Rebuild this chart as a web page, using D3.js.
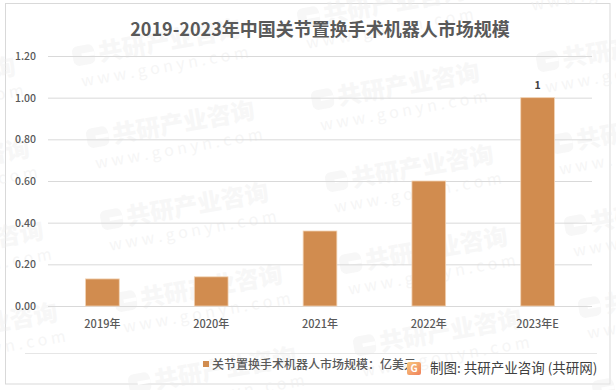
<!DOCTYPE html>
<html>
<head>
<meta charset="utf-8">
<script src="https://d3js.org/d3.v7.min.js"></script>
<style>
    html, body { margin: 0; padding: 0; background: #fff; }
    text { font-family: "Noto Sans CJK SC", "Noto Sans", sans-serif; }
</style>
</head>
<body>
<div id="chart"></div>
<script>
    // data
    var categories = ["2019年", "2020年", "2021年", "2022年", "2023年E"];
    var values = [0.13, 0.14, 0.36, 0.60, 1.00];
    var yTicks = [0, 0.2, 0.4, 0.6, 0.8, 1.0, 1.2];
    var barLabels = ["", "", "", "", "1"];

    var titleText = "2019-2023年中国关节置换手术机器人市场规模";
    var legendText = "关节置换手术机器人市场规模：亿美元";
    var sourceText = "制图: 共研产业咨询 (共研网)";
    var markName = "共研产业咨询";
    var markUrl = "w w w . g o n y n . c o m";

    var width = 616, height = 390;

    var svg = d3.select("#chart").append("svg")
        .attr("width", width)
        .attr("height", height)
        .style("display", "block");

    // outer frame
    svg.append("rect")
        .attr("x", 5.5).attr("y", 3.5)
        .attr("width", 604.5).attr("height", 380.5)
        .attr("fill", "#fff")
        .attr("stroke", "#d9d9d9");

    var x = d3.scaleBand().domain(categories).range([48, 592])
        .paddingInner(0.69).paddingOuter(0.345);
    var y = d3.scaleLinear().domain([0, 1.2]).range([306, 56]);

    // watermark tiles sit behind everything else
    var wm = svg.append("g").attr("pointer-events", "none");
    d3.range(-1, 3).forEach(function (col) {
        d3.range(-1, 5).forEach(function (row) {
            var px = 87 + col * 225 + row * 14;
            var py = 140 - col * 38 + row * 82;
            if (px > width || py > height + 20 || px < -170 || py < -20) return;
            var g = wm.append("g")
                .attr("transform", "translate(" + px + "," + py + ") rotate(-10)");
            g.append("rect")
                .attr("x", 0).attr("y", -11)
                .attr("width", 22).attr("height", 20)
                .attr("rx", 6)
                .attr("fill", "#ececec").attr("fill-opacity", 0.42);
            g.append("rect")
                .attr("x", 9).attr("y", -3)
                .attr("width", 13).attr("height", 3.5)
                .attr("fill", "#fff");
            g.append("text")
                .attr("x", 26).attr("y", 8)
                .attr("font-size", 24).attr("font-weight", 900)
                .attr("fill", "#ececec").attr("fill-opacity", 0.42)
                .text(markName);
            g.append("text")
                .attr("x", 4).attr("y", 30)
                .attr("font-size", 16)
                .attr("fill", "#ececec").attr("fill-opacity", 0.5)
                .text(markUrl);
        });
    });

    // gridlines
    svg.append("g").selectAll("line")
        .data(yTicks)
        .join("line")
        .attr("x1", 48).attr("x2", 592)
        .attr("y1", function (d) { return y(d) + 0.5; })
        .attr("y2", function (d) { return y(d) + 0.5; })
        .attr("stroke", "#d9d9d9");

    // bars
    svg.append("g").selectAll("rect")
        .data(values)
        .join("rect")
        .attr("x", function (d, i) { return x(categories[i]); })
        .attr("y", function (d) { return y(d); })
        .attr("width", x.bandwidth())
        .attr("height", function (d) { return y(0) - y(d); })
        .attr("fill", "#d18c4f")
        .attr("stroke", "#f2d3b5")
        .attr("stroke-width", 0.8);

    // y axis
    var yAxis = d3.axisLeft(y).tickValues(yTicks).tickFormat(d3.format(".2f")).tickSize(0).tickPadding(0);
    var yG = svg.append("g").attr("transform", "translate(36,0)").call(yAxis);
    yG.select(".domain").remove();
    yG.selectAll("text")
        .attr("font-size", 10.5).attr("font-weight", 500)
        .attr("fill", "#595959")
        .style("font-family", "'Noto Sans CJK SC'");

    // x axis
    var xAxis = d3.axisBottom(x).tickSize(0).tickPadding(0);
    var xG = svg.append("g").attr("transform", "translate(0,320)").call(xAxis);
    xG.select(".domain").remove();
    xG.selectAll("text")
        .attr("font-size", 11).attr("font-weight", 500)
        .attr("fill", "#595959")
        .style("font-family", "'Noto Sans CJK SC'");

    // value label
    svg.append("g").selectAll("text")
        .data(barLabels)
        .join("text")
        .attr("x", function (d, i) { return x(categories[i]) + x.bandwidth() / 2; })
        .attr("y", function (d, i) { return y(values[i]) - 9; })
        .attr("text-anchor", "middle")
        .attr("font-size", 10.5).attr("font-weight", 700)
        .attr("fill", "#404040")
        .text(function (d) { return d; });

    // title
    svg.append("text")
        .attr("x", 320).attr("y", 36)
        .attr("text-anchor", "middle")
        .attr("font-size", 18).attr("font-weight", 700)
        .attr("fill", "#595959")
        .text(titleText);

    // rule above the legend
    svg.append("line")
        .attr("x1", 25).attr("x2", 597)
        .attr("y1", 353.5).attr("y2", 353.5)
        .attr("stroke", "#e6e6e6");

    // legend
    svg.append("rect")
        .attr("x", 203).attr("y", 361)
        .attr("width", 6).attr("height", 6)
        .attr("fill", "#d18c4f");
    svg.append("text")
        .attr("x", 212).attr("y", 368.5)
        .attr("font-size", 12).attr("font-weight", 500)
        .attr("fill", "#595959")
        .text(legendText);

    // source line with its small logo
    var logoFill = svg.append("defs").append("linearGradient")
        .attr("id", "logoFill").attr("x1", 0).attr("y1", 0).attr("x2", 1).attr("y2", 1);
    logoFill.append("stop").attr("offset", 0).attr("stop-color", "#f7c97f");
    logoFill.append("stop").attr("offset", 1).attr("stop-color", "#f0805a");
    svg.append("rect")
        .attr("x", 407).attr("y", 362)
        .attr("width", 14).attr("height", 13)
        .attr("rx", 2)
        .attr("fill", "url(#logoFill)");
    svg.append("text")
        .attr("x", 414).attr("y", 372)
        .attr("text-anchor", "middle")
        .attr("font-size", 10).attr("font-weight", 700)
        .attr("fill", "#fff")
        .text("G");
    svg.append("text")
        .attr("x", 430).attr("y", 373)
        .attr("font-size", 13.5)
        .attr("fill", "#404040")
        .text(sourceText);
</script>
</body>
</html>
